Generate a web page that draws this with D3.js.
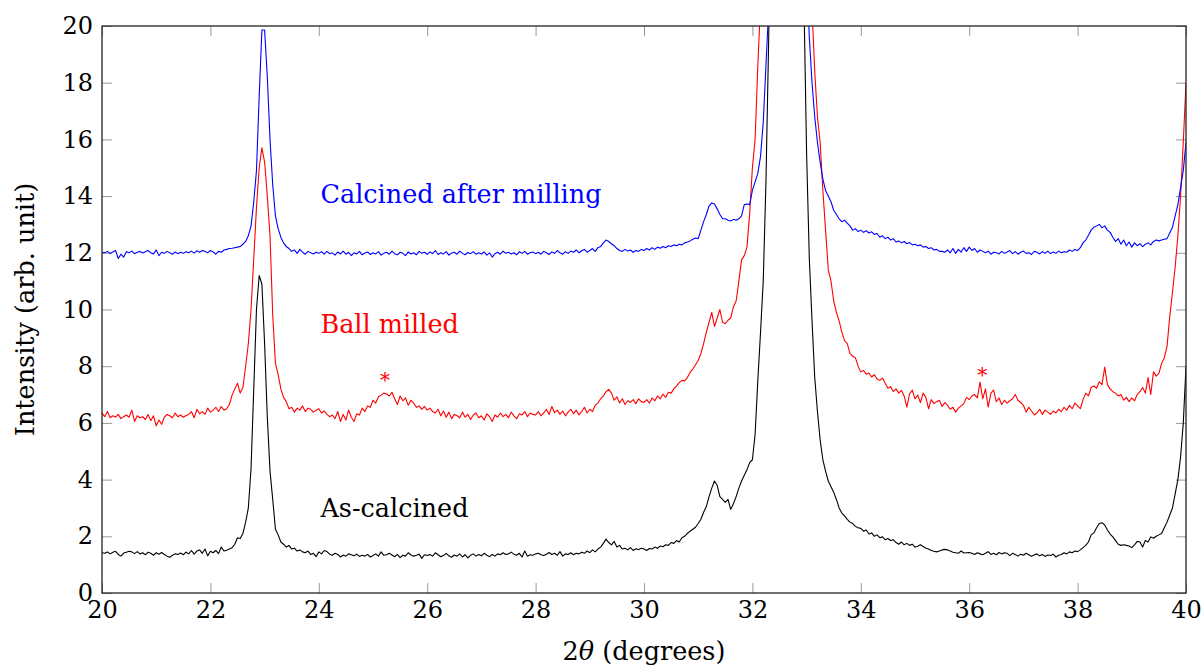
<!DOCTYPE html>
<html>
<head>
<meta charset="utf-8">
<script src="https://cdn.jsdelivr.net/npm/d3@7"></script>
<style>
  body { margin: 0; background: #fff; }
  svg text { font-family: "DejaVu Serif", serif; }
</style>
</head>
<body>
<div id="chart"></div>
<script>
// Scan grid: 2theta from 20 to 40 degrees, one reading every 0.05 degree
const scanStart = 20;
const scanStep = 0.05;

// Intensities, one row per 0.5 degree
const asCalcined = [
    1.42,1.40,1.45,1.38,1.44,1.47,1.36,1.30,1.41,1.44,
    1.47,1.45,1.39,1.46,1.38,1.42,1.35,1.44,1.40,1.33,
    1.42,1.37,1.43,1.36,1.30,1.26,1.33,1.38,1.36,1.41,
    1.35,1.44,1.38,1.50,1.37,1.48,1.52,1.40,1.55,1.31,
    1.47,1.42,1.50,1.39,1.62,1.48,1.51,1.55,1.60,1.72,
    1.95,1.92,2.10,2.50,3.00,4.40,7.20,10.0,11.2,10.9,
    8.8,6.2,4.3,3.3,2.25,2.05,1.80,1.72,1.62,1.68,
    1.55,1.58,1.48,1.52,1.45,1.42,1.48,1.36,1.40,1.28,
    1.45,1.38,1.50,1.46,1.37,1.33,1.40,1.36,1.27,1.34,
    1.30,1.38,1.35,1.31,1.37,1.29,1.33,1.30,1.36,1.27,
    1.32,1.38,1.30,1.45,1.33,1.35,1.40,1.34,1.28,1.36,
    1.25,1.33,1.30,1.42,1.34,1.30,1.33,1.37,1.22,1.35,
    1.32,1.36,1.30,1.42,1.35,1.28,1.32,1.40,1.31,1.26,
    1.34,1.30,1.38,1.27,1.35,1.24,1.33,1.38,1.30,1.36,
    1.31,1.40,1.33,1.28,1.36,1.30,1.38,1.35,1.42,1.36,
    1.38,1.44,1.37,1.33,1.40,1.27,1.48,1.30,1.35,1.33,
    1.38,1.40,1.35,1.32,1.37,1.43,1.36,1.40,1.33,1.46,
    1.30,1.38,1.36,1.42,1.35,1.40,1.38,1.44,1.40,1.48,
    1.42,1.52,1.45,1.55,1.62,1.75,1.90,1.78,1.70,1.82,
    1.62,1.68,1.55,1.58,1.52,1.60,1.50,1.56,1.53,1.58,
    1.55,1.50,1.57,1.55,1.62,1.58,1.66,1.63,1.70,1.68,
    1.78,1.75,1.85,1.80,1.95,2.00,2.10,2.18,2.25,2.32,
    2.45,2.60,2.85,3.05,3.40,3.70,3.95,3.80,3.40,3.30,
    3.20,3.30,2.95,3.15,3.40,3.70,3.95,4.15,4.35,4.60,
    4.70,5.60,7.50,9.20,11.0,14.5,19.5,26,34,42,
    50,56,60,62,62,60,54,40,30,21,
    15.5,11.8,9.6,7.6,6.4,5.4,4.7,4.3,3.95,3.75,
    3.55,3.30,3.00,2.82,2.72,2.60,2.50,2.45,2.35,2.30,
    2.28,2.18,2.22,2.08,2.12,2.00,2.05,1.95,1.98,1.88,
    1.92,1.85,1.88,1.78,1.72,1.80,1.70,1.75,1.68,1.72,
    1.62,1.65,1.70,1.64,1.58,1.55,1.50,1.47,1.45,1.48,
    1.52,1.54,1.52,1.48,1.44,1.42,1.40,1.48,1.41,1.42,
    1.43,1.40,1.36,1.42,1.38,1.35,1.40,1.46,1.36,1.40,
    1.35,1.43,1.38,1.42,1.40,1.32,1.40,1.36,1.30,1.37,
    1.33,1.40,1.35,1.30,1.34,1.38,1.31,1.36,1.29,1.34,
    1.32,1.37,1.27,1.33,1.36,1.42,1.38,1.45,1.42,1.48,
    1.46,1.52,1.60,1.68,1.80,2.05,2.12,2.30,2.45,2.48,
    2.40,2.22,2.08,1.98,1.85,1.72,1.68,1.70,1.68,1.66,
    1.60,1.70,1.82,1.80,1.62,1.85,1.80,1.98,1.93,2.00,
    2.05,2.10,2.30,2.50,2.75,3.00,3.50,4.00,4.80,6.00,
    8.0
];

const ballMilled = [
    6.35,6.22,6.40,6.18,6.25,6.20,6.30,6.15,6.22,6.28,
    6.20,6.45,6.05,6.25,6.18,6.22,6.12,6.30,6.08,6.25,
    5.90,6.10,5.95,6.20,6.30,6.25,6.18,6.35,6.22,6.28,
    6.20,6.26,6.30,6.40,6.18,6.48,6.32,6.40,6.30,6.52,
    6.38,6.45,6.55,6.40,6.58,6.45,6.50,6.65,6.98,7.20,
    7.40,7.05,7.25,8.00,8.80,10.0,11.8,13.6,15.0,15.7,
    15.2,14.0,12.6,9.8,8.1,7.7,7.2,6.9,6.75,6.5,
    6.55,6.38,6.52,6.45,6.60,6.40,6.52,6.48,6.38,6.45,
    6.50,6.35,6.42,6.30,6.22,6.28,6.15,6.40,6.05,6.30,
    6.10,6.45,6.20,6.05,6.32,6.28,6.52,6.40,6.60,6.55,
    6.80,6.70,6.92,6.98,7.05,7.02,6.95,7.08,6.85,6.65,
    6.95,6.78,6.88,6.62,6.80,6.70,6.55,6.60,6.48,6.58,
    6.45,6.52,6.40,6.35,6.48,6.25,6.42,6.20,6.38,6.15,
    6.30,6.25,6.18,6.38,6.20,6.30,6.12,6.28,6.35,6.18,
    6.25,6.10,6.32,6.22,6.05,6.28,6.20,6.35,6.22,6.30,
    6.18,6.38,6.25,6.15,6.32,6.28,6.40,6.22,6.35,6.30,
    6.28,6.40,6.25,6.35,6.48,6.30,6.58,6.36,6.45,6.30,
    6.42,6.25,6.38,6.48,6.32,6.45,6.28,6.40,6.55,6.35,
    6.48,6.40,6.62,6.70,6.85,6.95,7.10,7.18,7.05,6.80,
    6.92,6.70,6.85,6.65,6.78,6.72,6.82,6.68,6.85,6.75,
    6.72,6.82,6.70,6.88,6.78,6.95,6.85,7.02,6.90,7.08,
    7.05,7.20,7.30,7.42,7.50,7.48,7.60,7.78,7.90,8.05,
    8.20,8.45,8.80,9.20,9.55,9.90,9.40,9.70,10.0,9.55,
    9.50,9.62,9.70,10.1,10.3,11.0,11.75,11.9,12.2,13.4,
    15.0,16.0,18.6,20.8,24,30,38,46,54,60,
    65,68,70,70,68,65,60,52,42,33,
    27,23.5,20.6,18.4,16.8,15.9,14.2,12.8,11.4,11.0,
    10.3,9.9,9.6,9.2,8.9,8.8,8.45,8.35,8.30,8.00,
    7.80,7.85,7.72,7.76,7.62,7.70,7.55,7.50,7.58,7.40,
    7.22,7.28,7.10,7.20,7.05,7.15,6.95,6.56,7.02,7.16,
    6.85,6.98,6.72,7.05,6.90,6.50,6.82,6.68,6.75,6.80,
    6.58,6.72,6.62,6.48,6.55,6.38,6.52,6.60,6.68,6.90,
    6.82,6.95,7.00,6.88,7.44,6.85,7.20,6.56,7.05,7.16,
    6.75,6.88,6.65,6.80,6.70,6.78,6.85,7.00,6.80,6.72,
    6.62,6.38,6.55,6.42,6.28,6.35,6.48,6.30,6.45,6.38,
    6.30,6.42,6.35,6.48,6.40,6.55,6.45,6.62,6.50,6.70,
    6.60,6.50,6.82,7.05,6.95,7.25,7.30,7.22,7.45,7.35,
    7.97,7.35,7.20,7.10,7.05,6.95,7.00,6.80,6.90,6.75,
    6.88,6.78,7.00,7.10,7.25,7.05,7.60,7.00,7.80,7.65,
    7.75,8.10,8.30,8.70,9.75,10.6,11.5,12.6,14.0,15.9,
    18.0
];

const calcinedAfterMilling = [
    12.02,12.00,12.05,11.98,12.03,12.08,11.80,11.95,11.85,12.04,
    12.00,12.06,11.97,12.02,12.05,11.99,12.04,12.08,12.00,11.96,
    12.10,11.90,12.02,11.98,12.05,12.00,11.95,12.03,11.97,12.02,
    11.98,12.04,12.00,12.06,11.99,12.07,12.02,12.08,12.05,12.00,
    12.08,12.03,11.95,12.05,12.02,12.10,12.12,12.15,12.16,12.18,
    12.20,12.22,12.30,12.40,12.60,12.95,13.80,14.90,17.50,19.86,
    19.86,18.2,16.0,14.4,13.3,12.85,12.55,12.35,12.22,12.15,
    12.05,12.10,11.98,12.12,12.02,11.95,12.05,12.00,11.96,12.02,
    11.98,12.04,11.95,12.05,11.97,12.00,11.92,12.03,11.96,12.06,
    11.95,12.02,11.90,12.00,11.96,12.05,11.93,11.99,12.03,11.94,
    12.00,11.96,12.04,11.92,11.98,12.02,11.95,12.06,11.97,11.93,
    12.02,11.98,11.90,12.03,11.96,12.00,11.93,12.05,11.98,12.02,
    11.95,12.03,11.97,12.08,11.94,12.00,11.96,12.04,11.92,11.99,
    12.02,11.95,12.06,11.98,11.93,12.01,11.97,12.04,11.95,12.00,
    11.96,12.03,11.92,12.00,11.85,11.97,12.02,11.95,12.06,11.98,
    12.02,11.96,12.00,11.93,12.04,11.98,12.05,11.95,12.00,12.03,
    11.97,12.02,11.95,12.05,12.00,11.94,12.03,11.98,12.08,12.00,
    11.95,12.04,11.98,12.06,12.02,12.10,12.00,12.07,12.12,12.02,
    12.08,12.15,12.05,12.18,12.22,12.35,12.45,12.40,12.32,12.25,
    12.15,12.08,12.05,12.12,12.06,12.10,12.02,12.08,12.05,12.12,
    12.08,12.15,12.10,12.18,12.12,12.20,12.16,12.22,12.18,12.25,
    12.22,12.28,12.25,12.30,12.28,12.35,12.38,12.42,12.48,12.52,
    12.50,12.80,13.10,13.35,13.65,13.76,13.72,13.55,13.35,13.20,
    13.20,13.15,13.12,13.18,13.15,13.20,13.30,13.70,13.72,13.70,
    14.20,14.50,14.80,15.40,16.60,18.60,20.6,25,32,40,
    48,54,58,60,60,58,54,46,36,27,
    22.0,19.6,18.0,16.8,15.9,15.2,14.6,14.2,14.0,13.8,
    13.5,13.35,13.2,13.1,13.15,13.05,12.95,12.8,12.85,12.75,
    12.80,12.72,12.78,12.70,12.74,12.65,12.68,12.55,12.60,12.50,
    12.55,12.45,12.50,12.38,12.42,12.35,12.40,12.32,12.36,12.28,
    12.30,12.25,12.28,12.20,12.22,12.15,12.18,12.10,12.12,12.05,
    12.05,12.02,12.10,12.00,12.15,11.98,12.12,12.02,12.18,12.05,
    12.20,12.08,12.15,12.02,12.10,12.05,12.00,12.06,11.95,12.02,
    12.00,11.96,12.05,11.98,12.03,12.08,11.97,12.04,11.95,12.02,
    12.06,11.98,12.00,11.94,12.05,12.02,11.96,12.04,11.98,12.06,
    11.97,12.03,11.98,12.06,12.00,12.04,12.02,12.10,12.05,12.12,
    12.08,12.18,12.35,12.45,12.62,12.80,12.90,12.95,13.00,12.88,
    12.95,12.80,12.72,12.55,12.40,12.50,12.30,12.45,12.25,12.38,
    12.20,12.35,12.25,12.32,12.22,12.30,12.35,12.28,12.40,12.45,
    12.42,12.45,12.48,12.50,12.70,12.90,13.30,13.70,14.30,14.90,
    15.9
];

const seriesNames = ["As-calcined", "Ball milled", "Calcined after milling"];
const xTicks = [20, 22, 24, 26, 28, 30, 32, 34, 36, 38, 40];
const yTicks = [0, 2, 4, 6, 8, 10, 12, 14, 16, 18, 20];

// Impurity markers (*) on the ball milled pattern
const markerAngles = [25.22, 36.24];

// Set up the SVG canvas dimensions
const width = 1204;
const height = 669;
const margin = { top: 26, right: 18, bottom: 76, left: 102 };
const colors = ["#000000", "#ff0000", "#0000ff"];

const svg = d3.select("#chart")
    .append("svg")
    .attr("width", width)
    .attr("height", height);

const x = d3.scaleLinear()
    .domain([20, 40])
    .range([margin.left, width - margin.right]);

const y = d3.scaleLinear()
    .domain([0, 20])
    .range([height - margin.bottom, margin.top]);

// Clip the peaks that run off the top
svg.append("defs")
    .append("clipPath")
    .attr("id", "plotArea")
    .append("rect")
    .attr("x", margin.left)
    .attr("y", margin.top)
    .attr("width", width - margin.left - margin.right)
    .attr("height", height - margin.top - margin.bottom);

// Inward ticks on all four sides
const tickLen = 10;
function styleAxis(g) {
    g.select(".domain").remove();
    g.selectAll(".tick line").attr("stroke", "#999").attr("stroke-width", 1);
    g.selectAll(".tick text")
        .attr("fill", "#000")
        .style("font-family", "DejaVu Serif")
        .style("font-size", "24px");
}

svg.append("g")
    .attr("transform", `translate(0,${height - margin.bottom})`)
    .call(d3.axisBottom(x).tickValues(xTicks).tickSize(-tickLen).tickPadding(8).tickFormat(d3.format("d")))
    .call(styleAxis);

svg.append("g")
    .attr("transform", `translate(0,${margin.top})`)
    .call(d3.axisTop(x).tickValues(xTicks).tickSize(-tickLen).tickFormat(""))
    .call(styleAxis);

svg.append("g")
    .attr("transform", `translate(${margin.left},0)`)
    .call(d3.axisLeft(y).tickValues(yTicks).tickSize(-tickLen).tickPadding(9).tickFormat(d3.format("d")))
    .call(styleAxis);

svg.append("g")
    .attr("transform", `translate(${width - margin.right},0)`)
    .call(d3.axisRight(y).tickValues(yTicks).tickSize(-tickLen).tickFormat(""))
    .call(styleAxis);

// The patterns
const line = d3.line()
    .x((d, i) => x(scanStart + i * scanStep))
    .y(d => y(d));

const patterns = [asCalcined, ballMilled, calcinedAfterMilling];

svg.append("g")
    .attr("clip-path", "url(#plotArea)")
    .selectAll("path")
    .data(patterns)
    .join("path")
    .attr("d", line)
    .attr("fill", "none")
    .attr("stroke", (d, i) => colors[i])
    .attr("stroke-width", 1.1)
    .attr("stroke-linejoin", "round");

// Frame
svg.append("rect")
    .attr("x", margin.left)
    .attr("y", margin.top)
    .attr("width", width - margin.left - margin.right)
    .attr("height", height - margin.top - margin.bottom)
    .attr("fill", "none")
    .attr("stroke", "#222")
    .attr("stroke-width", 1.3);

// Curve labels placed in data coordinates
const labelSpots = [[24.03, 2.68], [24.03, 9.17], [24.03, 13.76]];
svg.append("g")
    .selectAll("text")
    .data(seriesNames)
    .join("text")
    .attr("x", (d, i) => x(labelSpots[i][0]))
    .attr("y", (d, i) => y(labelSpots[i][1]))
    .attr("fill", (d, i) => colors[i])
    .style("font-size", "25.5px")
    .text(d => d);

// Asterisks above the impurity bumps
svg.append("g")
    .selectAll("text")
    .data(markerAngles)
    .join("text")
    .attr("x", d => x(d))
    .attr("y", (d, i) => y(i === 0 ? 7.28 : 7.46))
    .attr("text-anchor", "middle")
    .attr("fill", colors[1])
    .style("font-size", "20px")
    .text("*");

// Axis titles
const xTitle = svg.append("text")
    .attr("x", (margin.left + width - margin.right) / 2)
    .attr("y", 660)
    .attr("text-anchor", "middle")
    .style("font-size", "25.5px");
xTitle.append("tspan").text("2");
xTitle.append("tspan").style("font-style", "italic").text("θ");
xTitle.append("tspan").text(" (degrees)");

svg.append("text")
    .attr("transform", `translate(34,${(margin.top + height - margin.bottom) / 2}) rotate(-90)`)
    .attr("text-anchor", "middle")
    .style("font-size", "25.5px")
    .text("Intensity (arb. unit)");
</script>
</body>
</html>
